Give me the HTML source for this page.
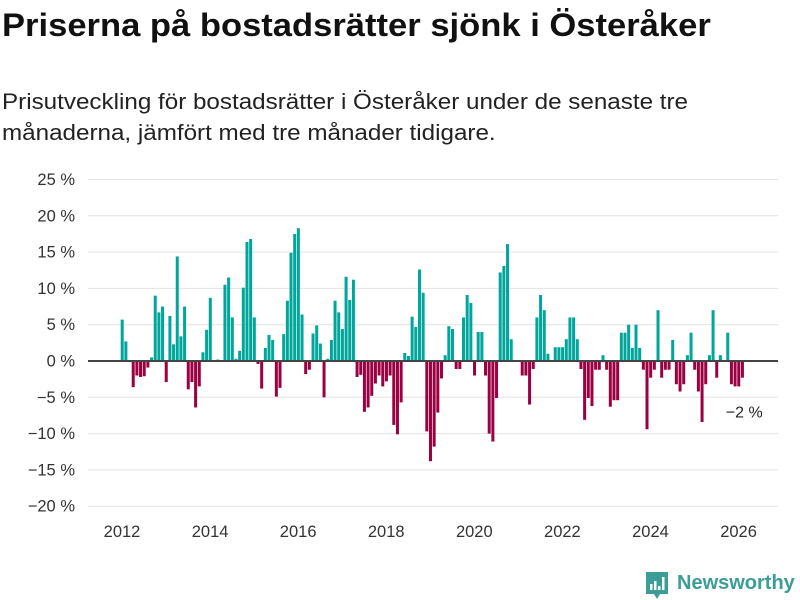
<!DOCTYPE html>
<html><head><meta charset="utf-8"><style>
body{margin:0;background:#fff;width:800px;height:600px;overflow:hidden;font-family:"Liberation Sans",sans-serif;}
#title{position:absolute;left:2px;top:7px;font-size:32px;font-weight:bold;color:#111;margin:0;white-space:nowrap;transform-origin:0 0;transform:scaleX(1.08)}
#sub{position:absolute;left:2px;top:86px;font-size:22px;color:#222;line-height:31px;width:790px;white-space:nowrap;transform-origin:0 0;transform:scaleX(1.1)}
svg{position:absolute;left:0;top:0}
</style></head><body>
<h1 id="title">Priserna på bostadsrätter sjönk i Österåker</h1>
<div id="sub">Prisutveckling för bostadsrätter i Österåker under de senaste tre<br>månaderna, jämfört med tre månader tidigare.</div>
<svg id="chart" width="800" height="600"></svg>
<script>
const values = [5.7,2.7,0,-3.6,-2,-2.2,-2.1,-0.9,0.5,9,6.7,7.5,-2.9,6.2,2.3,14.4,3.4,7.5,-3.9,-2.9,-6.4,-3.5,1.2,4.3,8.7,0,0.2,0,10.5,11.5,6,0.3,1.4,10.1,16.4,16.8,6,-0.4,-3.8,1.8,3.6,2.9,-4.9,-3.7,3.7,8.3,14.9,17.5,18.3,6.4,-1.8,-1.2,3.8,4.9,2.4,-5,0.3,2.9,8.3,6.7,4.4,11.6,8.4,11.2,-2.2,-1.9,-7,-6.4,-4.8,-3.1,-2,-3.5,-2.8,-2,-8.8,-10.1,-5.7,1.1,0.7,6.1,4.7,12.6,9.4,-9.7,-13.8,-11.8,-7.1,-2.4,0.8,4.8,4.4,-1.1,-1.1,6,9.1,8,-2,4,4,-2,-10,-11.1,-5.1,12.2,13.1,16.1,3,0,0,-2,-2,-6,-1.1,6,9.1,7,1,0,1.9,1.9,1.9,3,6,6,3,-1.1,-8.1,-5.1,-6.2,-1.2,-1.2,0.8,-1.2,-6.3,-5.4,-5.4,3.9,3.9,5,1.8,5,1.8,-1.2,-9.4,-2.3,-1.2,7,-2.3,-1.2,-1.2,2.9,-3.2,-4.2,-3.2,0.8,3.9,-1.2,-4.2,-8.4,-3.2,0.8,7,-2.3,0.8,0,3.9,-3.2,-3.5,-3.5,-2.3];
const yTicks = [25,20,15,10,5,0,-5,-10,-15,-20];
const xYears = [2012,2014,2016,2018,2020,2022,2024,2026];
const startYear = 2012;
const lastLabel = "−2 %";

const NS="http://www.w3.org/2000/svg";
const svg=document.getElementById('chart');
function y(v){return 361 - v*7.26;}
function x(m){return 122 + m*3.67;}
function mk(t,a){const e=document.createElementNS(NS,t);for(const k in a)e.setAttribute(k,a[k]);svg.appendChild(e);return e;}
yTicks.forEach(v=>{
  if(v!==0){const l=mk('line',{x1:88,x2:778,y1:y(v),y2:y(v),stroke:'#e2e2e2','stroke-width':1});
  
  }
  const t=mk('text',{x:75,y:y(v)+5.5,'text-anchor':'end','font-size':16.5,fill:'#333','font-family':'Liberation Sans, sans-serif'});
  t.textContent=(v<0?'−'+(-v):v)+' %';
  
  
});
xYears.forEach(yr=>{
  const xx=x((yr-startYear)*12);
  const t=mk('text',{x:xx,y:537,'text-anchor':'middle','font-size':16.5,fill:'#333','font-family':'Liberation Sans, sans-serif'});
  t.textContent=yr;
  
  
});
values.forEach((v,i)=>{
  if(v===0)return;
  const cx=x(i);
  const r=mk('rect',{x:cx-1.3,width:3,y:v>0?y(v):y(0),height:Math.abs(y(v)-y(0)),fill:v>0?'#00a59b':'#9b0041'});
  
  
});
const z=mk('line',{x1:88,x2:778,y1:y(0),y2:y(0),stroke:'#444','stroke-width':2});


const lx=x(values.length-1);
const lb=mk('text',{x:lx+2,y:y(values[values.length-1])+40,'text-anchor':'middle','font-size':16,fill:'#222','font-family':'Liberation Sans, sans-serif',stroke:'#fff','stroke-width':3,'paint-order':'stroke'});
lb.textContent=lastLabel;


const g=mk('g',{});


g.innerHTML='<path d="M646 572 h22 v22 h-8 l-3 5 l-3 -5 h-8 z" fill="#3a9e96"/><rect x="650" y="584" width="2.5" height="6" fill="#fff"/><rect x="654" y="581" width="2.5" height="9" fill="#fff"/><rect x="658" y="586" width="2.5" height="4" fill="#fff"/><rect x="662" y="577" width="2.5" height="13" fill="#fff"/><text x="677" y="589" font-size="20" font-weight="bold" fill="#3a9e96" font-family="Liberation Sans, sans-serif">Newsworthy</text>';
</script>
</body></html>
